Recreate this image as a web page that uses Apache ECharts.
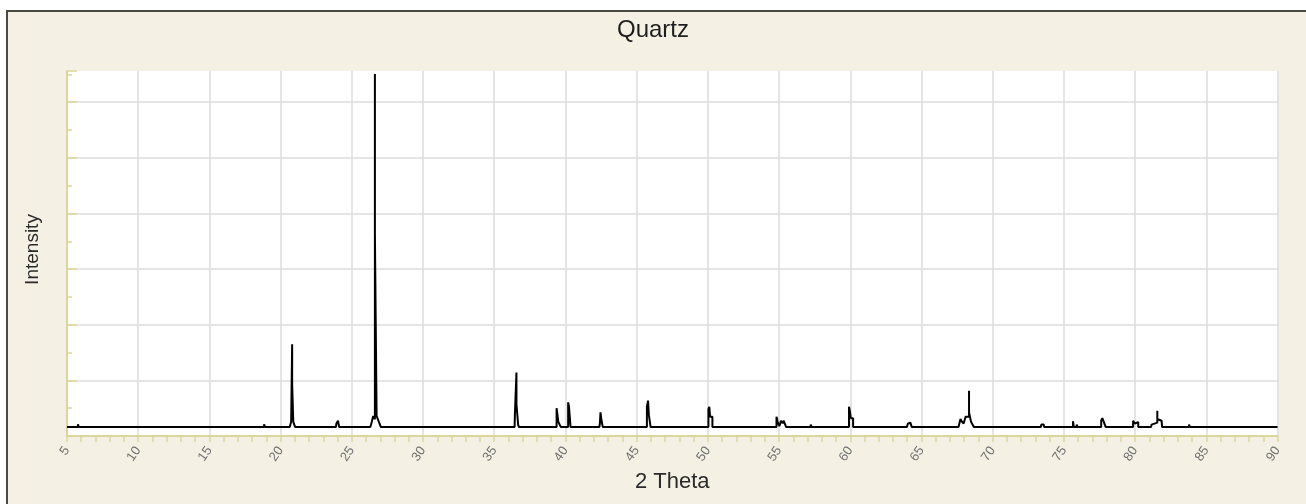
<!DOCTYPE html>
<html>
<head>
<meta charset="utf-8">
<title>Quartz</title>
<script src="https://cdn.jsdelivr.net/npm/echarts@6/dist/echarts.min.js"></script>
<style>
  html, body { margin: 0; padding: 0; background: #ffffff; }
  #chart { width: 1306px; height: 504px; }
</style>
</head>
<body>
<div id="chart"></div>
<script>
// Powder diffraction profile of quartz: 2θ positions (degrees) and intensities (counts),
// written peak by peak as a stepped outline; baseline sits at 32 counts between peaks.
const twoTheta = [
  5.00,
  5.77, 5.77, 5.83, 5.83,
  18.84, 18.84, 18.90, 18.90,
  20.64, 20.74, 20.81, 20.81, 20.81, 20.89, 20.89, 20.95, 21.02,
  23.88, 23.92, 24.03, 24.03, 24.11, 24.11,
  26.30, 26.40, 26.50, 26.60, 26.62, 26.62, 26.62, 26.74, 26.74, 26.84, 26.94, 27.04,
  36.43, 36.45, 36.56, 36.56, 36.56, 36.68, 36.68, 36.74,
  39.38, 39.38, 39.44, 39.44, 39.50, 39.50, 39.64, 39.68,
  40.19, 40.19, 40.25, 40.25, 40.36, 40.36,
  42.38, 42.42, 42.46, 42.46, 42.51, 42.51, 42.62, 42.62,
  45.72, 45.72, 45.80, 45.80, 45.86, 45.86, 45.98, 45.98,
  50.04, 50.04, 50.10, 50.10, 50.16, 50.16, 50.32, 50.32,
  54.82, 54.82, 54.90, 54.90, 54.98, 55.02, 55.14, 55.14, 55.26, 55.26, 55.32, 55.32, 55.44, 55.50,
  57.22, 57.22, 57.28, 57.28,
  59.91, 59.91, 59.97, 59.97, 60.04, 60.04, 60.20, 60.20,
  63.98, 64.04, 64.06, 64.22, 64.24, 64.32,
  65.80, 65.80, 65.86, 65.86,
  67.60, 67.66, 67.74, 67.74, 67.82, 67.82, 67.92, 67.96, 68.10, 68.10, 68.34, 68.34, 68.34, 68.48, 68.48, 68.60, 68.68,
  73.38, 73.42, 73.58, 73.62,
  75.64, 75.64, 75.70, 75.70, 75.90, 75.90, 75.96, 75.96,
  77.62, 77.62, 77.70, 77.70, 77.80, 77.80, 77.94, 77.94,
  79.86, 79.86, 79.98, 79.98, 80.06, 80.06, 80.22, 80.22,
  81.12, 81.16, 81.30, 81.30, 81.56, 81.56, 81.56, 81.70, 81.70, 81.86, 81.90,
  83.79, 83.79, 83.85, 83.85,
  90.00
];

const intensity = [
  32,
  32, 42, 42, 32,
  32, 42, 42, 32,
  32, 51, 51, 330, 186, 186, 51, 45, 32,
  32, 45, 45, 55, 55, 32,
  32, 50, 72, 72, 60, 1301, 732, 732, 72, 72, 45, 32,
  32, 75, 75, 228, 114, 114, 40, 32,
  32, 100, 100, 105, 105, 51, 51, 32,
  32, 121, 121, 105, 105, 32,
  32, 45, 45, 85, 85, 64, 64, 32,
  32, 105, 105, 127, 127, 75, 75, 32,
  32, 96, 96, 105, 105, 69, 69, 32,
  32, 69, 69, 51, 51, 35, 35, 55, 55, 46, 46, 55, 55, 32,
  32, 41, 41, 32,
  32, 105, 105, 90, 90, 64, 64, 32,
  32, 44, 48, 48, 44, 32,
  32, 39, 39, 32,
  32, 45, 45, 61, 61, 53, 53, 45, 45, 69, 69, 163, 85, 85, 51, 51, 32,
  32, 41, 41, 32,
  32, 53, 53, 32, 32, 41, 41, 32,
  32, 55, 55, 64, 64, 51, 51, 32,
  32, 55, 55, 45, 45, 50, 50, 32,
  32, 41, 41, 48, 48, 91, 61, 61, 55, 55, 32,
  32, 41, 41, 32,
  32
];

// Axis ranges and tick spacing
const xRange = [5, 90];
const xStep = 5;
const yRange = [0, 1312];
const yStep = 200;

const profile = twoTheta.map((t, i) => [t, intensity[i]]);

const axisYellow = '#dcd69c';
const gridGrey = '#dddddd';

const chart = echarts.init(document.getElementById('chart'), null, { renderer: 'canvas' });

chart.setOption({
  backgroundColor: '#ffffff',
  animation: false,
  graphic: [{
    type: 'rect',
    z: -100,
    silent: true,
    shape: { x: 7, y: 11, width: 1340, height: 540 },
    style: { fill: '#f4f1e4', stroke: '#4a4a42', lineWidth: 2 }
  }],
  title: {
    text: 'Quartz',
    left: 'center',
    top: 13,
    textStyle: {
      fontFamily: 'Liberation Sans',
      fontSize: 24,
      fontWeight: 'normal',
      color: '#1e1e1e'
    }
  },
  grid: {
    left: 67,
    right: 28.5,
    top: 71,
    bottom: 68,
    show: true,
    backgroundColor: '#ffffff',
    borderWidth: 0
  },
  xAxis: {
    type: 'value',
    min: xRange[0],
    max: xRange[1],
    interval: xStep,
    name: '2 Theta',
    nameLocation: 'middle',
    nameGap: 35,
    nameTextStyle: {
      fontFamily: 'Liberation Sans',
      fontSize: 22,
      color: '#2a2a2a'
    },
    axisLine: { show: true, onZero: false, lineStyle: { color: axisYellow, width: 2 } },
    axisTick: { show: true, inside: false, length: 6, lineStyle: { color: axisYellow, width: 1.5 } },
    minorTick: { show: true, splitNumber: 5, length: 6, lineStyle: { color: axisYellow, width: 1.5 } },
    axisLabel: {
      rotate: 55,
      margin: 12,
      fontFamily: 'Liberation Sans',
      fontSize: 13,
      color: '#707070'
    },
    splitLine: { show: true, lineStyle: { color: gridGrey, width: 1.5 } }
  },
  yAxis: {
    type: 'value',
    min: yRange[0],
    max: yRange[1],
    interval: yStep,
    name: 'Intensity',
    nameLocation: 'middle',
    nameGap: 25,
    nameTextStyle: {
      fontFamily: 'Liberation Sans',
      fontSize: 19,
      color: '#2a2a2a',
      padding: [0, 0, 0, 8]
    },
    axisLine: { show: true, lineStyle: { color: axisYellow, width: 2 } },
    axisTick: { show: true, inside: true, length: 10, lineStyle: { color: axisYellow, width: 1.5 } },
    minorTick: { show: true, splitNumber: 2, length: 5, lineStyle: { color: axisYellow, width: 1.5 } },
    axisLabel: { show: false },
    splitLine: { show: true, showMaxLine: false, lineStyle: { color: gridGrey, width: 1.5 } }
  },
  series: [{
    type: 'line',
    data: profile,
    showSymbol: false,
    symbol: 'none',
    clip: true,
    lineStyle: { color: '#000000', width: 2 },
    emphasis: { disabled: true }
  }]
});
</script>
</body>
</html>
